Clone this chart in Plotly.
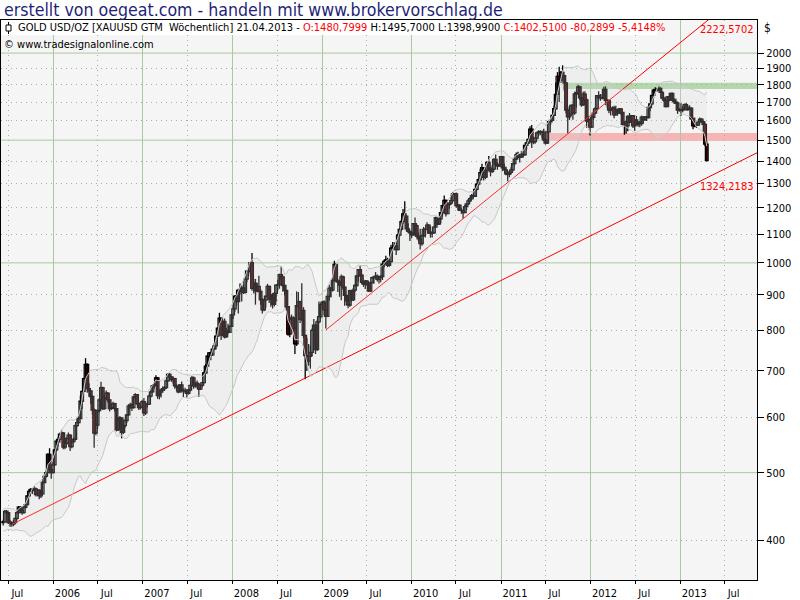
import numpy as np
import pandas as pd
import plotly.graph_objects as go

# ---------------- data (weekly gold candles, USD/oz) ----------------
last_bar = "2013-04-19"

opens = [
    # 2005
    424,425,440,438,424,424,422,424,430,438,446,441,438,446,450,463,470,473,472,474,465,472,463,466,484,494,500,531,505,500,
    # 2006
    513,539,555,558,568,570,544,551,560,566,545,554,558,584,590,598,633,654,682,715,660,655,643,615,570,585,614,636,662,618,
    640,650,636,618,620,628,618,576,597,599,571,584,594,605,623,625,620,642,647,628,620,621,
    # 2007
    632,609,627,627,644,653,666,669,684,645,653,657,660,662,677,692,686,680,682,666,664,653,668,656,655,656,650,657,667,684,
    666,672,670,659,667,673,695,711,735,743,738,752,760,785,806,833,788,824,783,799,795,811,
    # 2008
    842,859,896,880,913,910,921,907,948,973,972,1001,919,935,912,925,910,885,856,884,896,925,887,899,872,904,929,930,962,955,
    928,913,865,790,830,834,805,765,868,880,830,855,787,736,723,734,744,800,814,751,823,837,
    # 2009
    872,878,856,838,895,920,914,944,995,942,939,929,955,923,898,882,870,912,885,914,928,958,978,960,938,932,941,932,911,937,
    952,954,957,947,953,956,996,1005,1010,992,1004,1050,1052,1057,1045,1096,1117,1146,1176,1167,1119,1110,
    # 2010
    1104,1097,1138,1131,1092,1083,1066,1093,1117,1118,1133,1103,1106,1104,1125,1161,1137,1157,1180,1208,1229,1177,1212,1218,
    1228,1256,1256,1208,1210,1189,1189,1181,1204,1215,1227,1236,1249,1246,1275,1297,1317,1347,1370,1326,1358,1394,1367,1352,
    1363,1407,1384,1377,1380,
    # 2011
    1421,1369,1360,1342,1340,1349,1360,1388,1409,1429,1420,1418,1431,1429,1474,1486,1504,1556,1491,1493,1510,1536,1542,1541,
    1540,1501,1486,1542,1594,1601,1628,1664,1745,1852,1829,1876,1857,1812,1657,1620,1636,1682,1642,1747,1755,1788,1725,1686,
    1746,1713,1598,1606,
    # 2012
    1566,1617,1640,1665,1738,1726,1725,1724,1774,1711,1711,1656,1662,1668,1631,1659,1642,1663,1644,1580,1592,1572,1622,1591,
    1627,1572,1604,1579,1591,1584,1619,1605,1620,1616,1671,1691,1739,1769,1773,1771,1779,1757,1723,1712,1676,1731,1714,1751,
    1711,1702,1696,1657,
    # 2013
    1656,1656,1662,1687,1659,1667,1667,1609,1573,1576,1577,1592,1608,1595,1580,1480.7999,
]

highs = [
    # 2005
    428,442,442,439,428,426,428,431,440,448,447,442,448,452,464,473,475,475,478,476,474,473,469,487,497,503,533,542,506,518,
    # 2006
    540,558,563,569,576,572,556,562,571,567,557,562,586,598,602,645,656,684,730,717,672,656,645,618,589,616,640,675,664,645,
    656,652,638,627,632,630,619,600,603,600,587,596,607,627,630,629,644,650,648,632,626,636,
    # 2007
    640,628,633,647,656,668,672,690,686,657,660,665,666,680,694,695,688,687,684,670,666,670,676,660,662,658,660,668,688,687,
    674,678,672,669,674,698,716,738,745,746,754,767,786,808,848,835,826,832,807,818,812,845,
    # 2008
    869,898,915,918,934,928,931,953,976,995,1002,1033,950,948,936,958,916,890,888,897,933,927,903,904,906,930,946,965,988,957,
    930,915,867,838,843,838,810,910,908,882,935,864,788,780,765,761,805,831,815,829,880,875,
    # 2009
    882,884,857,898,930,922,950,1007,998,948,945,962,959,926,900,891,915,914,920,932,960,980,991,963,946,945,945,935,940,955,
    957,970,962,957,960,998,1010,1024,1017,1008,1062,1071,1070,1059,1101,1120,1154,1195,1226,1170,1140,1112,
    # 2010
    1109,1140,1162,1136,1106,1119,1097,1126,1120,1144,1136,1128,1110,1128,1165,1162,1158,1180,1211,1249,1232,1216,1222,1250,
    1264,1260,1262,1215,1213,1199,1191,1211,1216,1235,1242,1256,1259,1279,1300,1321,1365,1388,1372,1360,1399,1424,1371,1382,
    1413,1431,1395,1388,1424,
    # 2011
    1423,1389,1375,1345,1358,1371,1390,1416,1440,1444,1433,1448,1447,1476,1488,1509,1570,1577,1519,1512,1537,1550,1550,1549,
    1558,1511,1545,1595,1610,1633,1682,1814,1878,1912,1885,1921,1862,1816,1675,1680,1687,1690,1760,1767,1802,1795,1732,1761,
    1763,1723,1625,1609,
    # 2012
    1628,1662,1673,1740,1763,1747,1745,1790,1792,1717,1711,1670,1677,1680,1681,1661,1668,1667,1645,1598,1600,1628,1641,1629,
    1628,1605,1625,1597,1598,1627,1622,1621,1624,1675,1692,1742,1777,1787,1781,1796,1786,1765,1731,1726,1735,1737,1754,1755,
    1723,1722,1700,1668,
    # 2013
    1694,1679,1693,1696,1682,1683,1671,1617,1617,1590,1599,1616,1612,1600,1589,1495.7,
]

lows = [
    # 2005
    420,424,434,422,418,418,419,422,428,436,438,435,437,444,449,462,467,466,470,462,463,458,460,465,483,492,499,499,490,499,
    # 2006
    512,536,545,552,562,540,540,548,558,537,542,551,556,582,588,597,617,652,680,651,643,628,605,543,566,578,610,634,615,616,
    638,630,612,615,617,612,573,574,592,560,568,580,589,603,617,613,618,638,625,615,616,619,
    # 2007
    603,605,620,625,641,651,660,666,638,637,641,651,655,660,676,680,675,671,660,655,650,652,652,642,650,641,647,654,665,660,
    662,661,642,657,663,671,694,708,729,725,735,750,752,783,803,775,786,779,781,790,793,809,
    # 2008
    831,851,869,846,901,880,902,903,938,957,966,912,904,871,907,909,871,846,852,863,893,876,865,860,866,880,913,918,945,909,
    898,855,786,782,818,792,740,760,862,820,825,780,681,700,712,705,735,780,740,748,819,832,
    # 2009
    859,841,805,836,882,892,910,940,937,908,894,884,915,868,870,861,865,880,882,908,924,940,955,932,924,917,928,908,910,935,
    933,950,940,934,938,945,986,998,986,987,1002,1040,1043,1026,1043,1091,1110,1137,1160,1110,1104,1075,
    # 2010
    1085,1094,1124,1087,1074,1045,1058,1090,1087,1114,1100,1087,1087,1100,1124,1132,1133,1140,1165,1203,1166,1176,1196,1212,
    1225,1232,1200,1190,1189,1176,1157,1180,1190,1212,1222,1236,1238,1243,1270,1291,1313,1342,1313,1318,1326,1357,1331,1347,
    1359,1379,1360,1374,1376,
    # 2011
    1354,1360,1336,1309,1327,1342,1355,1380,1405,1412,1393,1414,1416,1426,1454,1484,1502,1462,1480,1482,1504,1520,1525,1510,
    1494,1478,1481,1540,1577,1597,1625,1659,1744,1702,1812,1835,1765,1640,1535,1603,1625,1605,1631,1670,1748,1713,1675,1680,
    1706,1562,1588,1523,
    # 2012
    1562,1605,1636,1652,1717,1708,1715,1718,1684,1671,1640,1627,1650,1613,1629,1627,1636,1631,1574,1527,1532,1545,1586,1591,
    1562,1547,1576,1568,1565,1573,1583,1598,1598,1612,1650,1683,1722,1753,1760,1765,1753,1722,1701,1672,1675,1705,1712,1705,
    1691,1690,1636,1647,
    # 2013
    1626,1645,1660,1655,1653,1660,1603,1555,1565,1562,1574,1591,1592,1539,1470,1398.99,
]

closes = [
    # 2005
    425,440,438,424,424,422,424,430,438,446,441,438,446,450,463,470,473,472,474,465,472,463,466,484,494,500,531,505,500,513,
    # 2006
    539,555,558,568,570,544,551,560,566,545,554,558,584,590,598,633,654,682,715,660,655,643,615,570,585,614,636,662,618,640,
    650,636,618,620,628,618,576,597,599,571,584,594,605,623,625,620,642,647,628,620,621,632,
    # 2007
    609,627,627,644,653,666,669,684,645,653,657,660,662,677,692,686,680,682,666,664,653,668,656,655,656,650,657,667,684,666,
    672,670,659,667,673,695,711,735,743,738,752,760,785,806,833,788,824,783,799,795,811,842,
    # 2008
    859,896,880,913,910,921,907,948,973,972,1001,919,935,912,925,910,885,856,884,896,925,887,899,872,904,929,930,962,955,928,
    913,865,790,830,834,805,765,868,880,830,855,787,736,723,734,744,800,814,751,823,837,872,
    # 2009
    878,856,838,895,920,914,944,995,942,939,929,955,923,898,882,870,912,885,914,928,958,978,960,938,932,941,932,911,937,952,
    954,957,947,953,956,996,1005,1010,992,1004,1050,1052,1057,1045,1096,1117,1146,1176,1167,1119,1110,1104,
    # 2010
    1097,1138,1131,1092,1083,1066,1093,1117,1118,1133,1103,1106,1104,1125,1161,1137,1157,1180,1208,1229,1177,1212,1218,1228,
    1256,1256,1208,1210,1189,1189,1181,1204,1215,1227,1236,1249,1246,1275,1297,1317,1347,1370,1326,1358,1394,1367,1352,1363,
    1407,1384,1377,1380,1421,
    # 2011
    1369,1360,1342,1340,1349,1360,1388,1409,1429,1420,1418,1431,1429,1474,1486,1504,1556,1491,1493,1510,1536,1542,1541,1540,
    1501,1486,1542,1594,1601,1628,1664,1745,1852,1829,1876,1857,1812,1657,1620,1636,1682,1642,1747,1755,1788,1725,1686,1746,
    1713,1598,1606,1566,
    # 2012
    1617,1640,1665,1738,1726,1725,1724,1774,1711,1711,1656,1662,1668,1631,1659,1642,1663,1644,1580,1592,1572,1622,1591,1627,
    1572,1604,1579,1591,1584,1619,1605,1620,1616,1671,1691,1739,1769,1773,1771,1779,1757,1723,1712,1676,1731,1714,1751,1711,
    1702,1696,1657,1656,
    # 2013
    1656,1662,1687,1659,1667,1667,1609,1573,1576,1577,1592,1608,1595,1580,1481,1402.51,
]

# weekly closes Jan-Jun 2005 (before the visible window, only feed the bands)
pre_closes = [427,421,427,423,414,421,431,435,432,443,440,427,427,424,431,436,435,425,421,418,417,424]

# horizontal zones
zone_green = [1776, 1813]
zone_green_start = "2011-09-09"
zone_red = [1497, 1536]
zone_red_start = "2011-07-08"

# trend lines (anchor dates and values)
trend_low_dates = ["2005-07-15", "2013-04-19"]
trend_low_vals = [421.4, 1324.2183]
trend_up_dates = ["2009-01-16", "2013-04-19"]
trend_up_vals = [801.0, 2222.5702]

y_ticks = [400, 500, 600, 700, 800, 900, 1000, 1100, 1200, 1300, 1400, 1500, 1600, 1700, 1800, 1900, 2000]
y_solid = [500, 1000, 1500, 2000]
year_ticks = ["2006", "2007", "2008", "2009", "2010", "2011", "2012", "2013"]
jul_ticks = ["2005", "2006", "2007", "2008", "2009", "2010", "2011", "2012", "2013"]

# ---------------- derived ----------------
dates = pd.date_range(end=last_bar, periods=len(closes), freq="W-FRI")
o = np.array(opens, float)
h = np.array(highs, float)
l = np.array(lows, float)
c = np.array(closes, float)

s = pd.Series(pre_closes + closes, dtype=float)
mid = s.rolling(20).mean()
sd = s.rolling(20).std(ddof=0)
bb_up = (mid + 2 * sd).iloc[len(pre_closes):].to_numpy()
bb_lo = (mid - 2 * sd).iloc[len(pre_closes):].to_numpy()

X0, X1 = "2005-06-01", "2013-11-10"


def extend(dts, vals, end):
    t = [pd.Timestamp(d).value for d in dts]
    lv = np.log10(vals)
    te = pd.Timestamp(end).value
    le = lv[0] + (lv[1] - lv[0]) * (te - t[0]) / (t[1] - t[0])
    return [dts[0], dts[1], end], [vals[0], vals[1], 10 ** le]


tl_x, tl_y = extend(trend_low_dates, trend_low_vals, X1)
tu_x, tu_y = extend(trend_up_dates, trend_up_vals, X1)

FONT = "DejaVu Sans Condensed, Liberation Sans, sans-serif"
GRID_GREEN = "#a9c9a3"
GRID_DOT = "#a6aea4"
BODY_W = 11 * 86400000  # body width in ms

fig = go.Figure()

# Bollinger envelope
fig.add_trace(go.Scatter(x=dates, y=bb_lo, mode="lines", xaxis="x2",
                         line=dict(color="#c8c8c8", width=1), hoverinfo="skip", showlegend=False))
fig.add_trace(go.Scatter(x=dates, y=bb_up, mode="lines", xaxis="x2", fill="tonexty",
                         fillcolor="rgba(215,215,215,0.22)",
                         line=dict(color="#c8c8c8", width=1), hoverinfo="skip", showlegend=False))

# candle wicks
wx, wy = [], []
for d, hi, lo in zip(dates, h, l):
    wx += [d, d, None]
    wy += [lo, hi, None]
fig.add_trace(go.Scatter(x=wx, y=wy, mode="lines", line=dict(color="black", width=1.3),
                         hoverinfo="skip", showlegend=False))

# candle bodies
up = c >= o
dn = ~up
fig.add_trace(go.Bar(x=dates[up], base=o[up], y=np.maximum(c[up] - o[up], 0.3), width=BODY_W,
                     marker=dict(color="white", line=dict(color="black", width=1.3)),
                     hoverinfo="skip", showlegend=False))
fig.add_trace(go.Bar(x=dates[dn], base=c[dn], y=o[dn] - c[dn], width=BODY_W,
                     marker=dict(color="#ff0000", line=dict(color="black", width=1.3)),
                     hoverinfo="skip", showlegend=False))

# trend lines
fig.add_trace(go.Scatter(x=tl_x, y=tl_y, mode="lines", line=dict(color="#ff0000", width=1),
                         hoverinfo="skip", showlegend=False))
fig.add_trace(go.Scatter(x=tu_x, y=tu_y, mode="lines", line=dict(color="#ff0000", width=1),
                         hoverinfo="skip", showlegend=False))

shapes = []
shapes.append(dict(type="rect", xref="x", yref="y", x0=zone_green_start, x1=X1,
                   y0=zone_green[0], y1=zone_green[1], fillcolor="#b4d8ac", line=dict(width=0), layer="below"))
shapes.append(dict(type="rect", xref="x", yref="y", x0=zone_red_start, x1=X1,
                   y0=zone_red[0], y1=zone_red[1], fillcolor="#f6b4b4", line=dict(width=0), layer="below"))
for v in y_solid:
    shapes.append(dict(type="line", xref="paper", yref="y", x0=0, x1=1, y0=v, y1=v,
                       line=dict(color=GRID_GREEN, width=1), layer="below"))
# header strip
shapes.append(dict(type="rect", xref="paper", yref="paper", x0=0, x1=656 / 756, y0=1 - 15 / 560, y1=1,
                   fillcolor="white", line=dict(width=0), layer="above"))
# little candle icon
shapes.append(dict(type="line", xref="paper", yref="paper", x0=7.5 / 756, x1=7.5 / 756,
                   y0=1 - 14 / 560, y1=1 - 2 / 560, line=dict(color="black", width=1), layer="above"))
shapes.append(dict(type="rect", xref="paper", yref="paper", x0=5 / 756, x1=10 / 756,
                   y0=1 - 11 / 560, y1=1 - 5 / 560, fillcolor="white",
                   line=dict(color="black", width=1), layer="above"))

header = ("GOLD USD/OZ [XAUUSD GTM\u00a0\u00a0Wöchentlich] 21.04.2013 - "
          "<span style='color:#ff0000'>O:1480,7999</span> H:1495,7000 L:1398,9900 "
          "<span style='color:#ff0000'>C:1402,5100 -80,2899 -5,4148%</span>")

annotations = [
    dict(text="erstellt von oegeat.com - handeln mit www.brokervorschlag.de", xref="paper", yref="paper",
         x=0, y=1, xanchor="left", yanchor="bottom", xshift=1, yshift=-2, showarrow=False,
         font=dict(family=FONT, size=17.6, color="#1f1f78")),
    dict(text=header, xref="paper", yref="paper", x=0, y=1 - 7.5 / 560, xanchor="left", yanchor="middle",
         xshift=15, showarrow=False, font=dict(family=FONT, size=11, color="black")),
    dict(text="© www.tradesignalonline.com", xref="paper", yref="paper", x=0, y=1 - 25 / 560,
         xanchor="left", yanchor="middle", xshift=1, showarrow=False,
         font=dict(family=FONT, size=11, color="black")),
    dict(text="$", xref="paper", yref="paper", x=1, y=1 - 8 / 560, xanchor="left", yanchor="middle",
         xshift=5, showarrow=False, font=dict(family=FONT, size=12, color="black")),
    dict(text=f"{trend_up_vals[1]:.4f}".replace(".", ","), xref="paper", yref="y", x=1,
         y=np.log10(trend_up_vals[1]), xanchor="right", yanchor="top", xshift=-1, showarrow=False,
         font=dict(family=FONT, size=11, color="#ff0000")),
    dict(text=f"{trend_low_vals[1]:.4f}".replace(".", ","), xref="paper", yref="y", x=1,
         y=np.log10(trend_low_vals[1]), xanchor="right", yanchor="top", xshift=-1, showarrow=False,
         font=dict(family=FONT, size=11, color="#ff0000")),
]

tickfont = dict(family=FONT, size=11, color="black")

fig.update_layout(
    width=800, height=600,
    margin=dict(l=1, r=43, t=20, b=20, pad=0),
    paper_bgcolor="white", plot_bgcolor="#f5f5f5",
    barmode="overlay",
    showlegend=False,
    shapes=shapes, annotations=annotations,
    xaxis=dict(type="date", range=[X0, X1], tickvals=[f"{y}-01-01" for y in year_ticks], ticktext=year_ticks,
               ticks="outside", ticklen=3, tickcolor="black", tickfont=tickfont, ticklabelshift=14,
               showgrid=True, gridcolor=GRID_GREEN, gridwidth=1, zeroline=False,
               showline=True, linecolor="black", linewidth=1, mirror=True,
               automargin=False, fixedrange=True),
    xaxis2=dict(type="date", overlaying="x", matches="x", anchor="y", side="bottom",
                tickvals=[f"{y}-07-01" for y in jul_ticks], ticktext=["Jul"] * len(jul_ticks),
                ticks="outside", ticklen=3, tickcolor="black", tickfont=tickfont, ticklabelshift=9,
                showgrid=True, gridcolor=GRID_DOT, griddash="1px,4px", gridwidth=1, zeroline=False,
                showline=False, automargin=False),
    yaxis=dict(type="log", range=[np.log10(350.7), np.log10(2231)], side="right",
               tickvals=y_ticks, ticktext=[str(v) for v in y_ticks],
               ticks="outside", ticklen=6, tickcolor="black", tickfont=tickfont,
               showgrid=False, zeroline=False,
               minor=dict(tickvals=[v for v in y_ticks if v not in y_solid], showgrid=True,
                          gridcolor=GRID_DOT, griddash="1px,4px", gridwidth=1, ticks=""),
               showline=True, linecolor="black", linewidth=1, mirror=True,
               automargin=False, fixedrange=True),
)

fig.write_html("out.html")
